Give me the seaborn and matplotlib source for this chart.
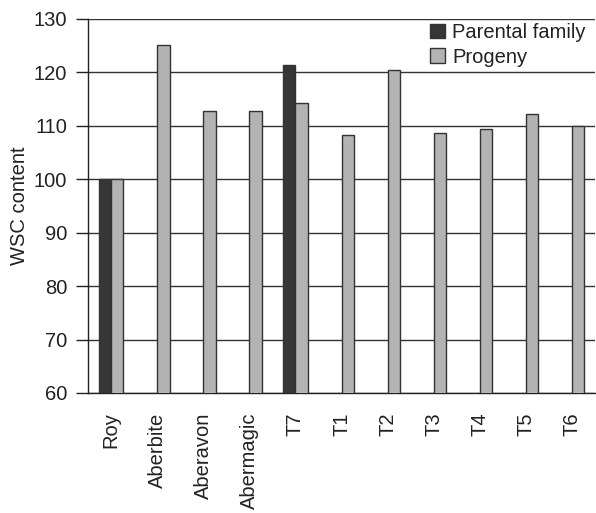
import matplotlib
matplotlib.use("Agg")
import matplotlib.pyplot as plt
import seaborn as sns
import pandas as pd
import numpy as np

categories = ["Roy", "Aberbite", "Aberavon", "Abermagic", "T7", "T1", "T2", "T3", "T4", "T5", "T6"]
parental = [100, np.nan, np.nan, np.nan, 121.3, np.nan, np.nan, np.nan, np.nan, np.nan, np.nan]
progeny = [100, 125.2, 112.7, 112.7, 114.3, 108.2, 120.4, 108.7, 109.4, 112.3, 110.0]
series_names = ["Parental family", "Progeny"]
colors = ["#363636", "#b3b3b3"]

df = pd.DataFrame({
    "cat": categories * 2,
    "val": parental + progeny,
    "series": [series_names[0]] * len(categories) + [series_names[1]] * len(categories),
})

sns.set_style("white")
plt.rcParams["font.family"] = ["Liberation Sans", "DejaVu Sans"]
FS = 14.5

fig = plt.figure(figsize=(5.96, 5.13), dpi=100)
ax = fig.add_axes([88 / 596, 120 / 513, (595 - 88) / 596, (393 - 19) / 513])

sns.barplot(data=df, x="cat", y="val", hue="series", order=categories,
            hue_order=series_names, palette=colors, width=0.54,
            edgecolor="#333333", linewidth=1.0, ax=ax, zorder=3)

ax.set_ylim(60, 130)
ax.set_xlim(-0.5, len(categories) - 0.5)
ax.set_yticks(range(60, 131, 10))
ax.yaxis.grid(True, color="#333333", linewidth=1.0, zorder=0)
ax.set_axisbelow(True)
for s in ["top", "right"]:
    ax.spines[s].set_visible(False)
ax.spines["left"].set_color("#222222")
ax.spines["bottom"].set_color("#222222")
ax.spines["left"].set_linewidth(1.0)
ax.spines["bottom"].set_linewidth(1.0)

ax.set_xticks(range(len(categories)))
ax.set_xticklabels(categories, rotation=90, fontsize=FS)
ax.tick_params(axis="x", which="major", length=0, pad=14)
ax.set_xticks(np.arange(-0.5, len(categories), 1.0), minor=True)
ax.tick_params(axis="x", which="minor", length=10, width=1.0, color="#222222", direction="out")
ax.tick_params(axis="y", length=9, width=1.0, color="#222222", direction="out",
               labelsize=FS, left=True, pad=6)
for lab in ax.get_yticklabels() + ax.get_xticklabels():
    lab.set_color("#222222")

ax.set_xlabel("")
ax.set_ylabel("WSC content", fontsize=FS, labelpad=3, color="#222222")

leg = fig.legend(handles=ax.get_legend_handles_labels()[0],
                 labels=ax.get_legend_handles_labels()[1],
                 loc="upper right", bbox_to_anchor=(586 / 596, 1 - 23 / 513),
                 frameon=False, fontsize=FS, handlelength=0.75, handleheight=0.75,
                 handletextpad=0.35, labelspacing=0.28, borderpad=0.0, borderaxespad=0.0)
ax.get_legend().remove()
for h in leg.legend_handles:
    h.set_edgecolor("#333333")
for t in leg.get_texts():
    t.set_color("#222222")

fig.savefig("out.png", dpi=100)
